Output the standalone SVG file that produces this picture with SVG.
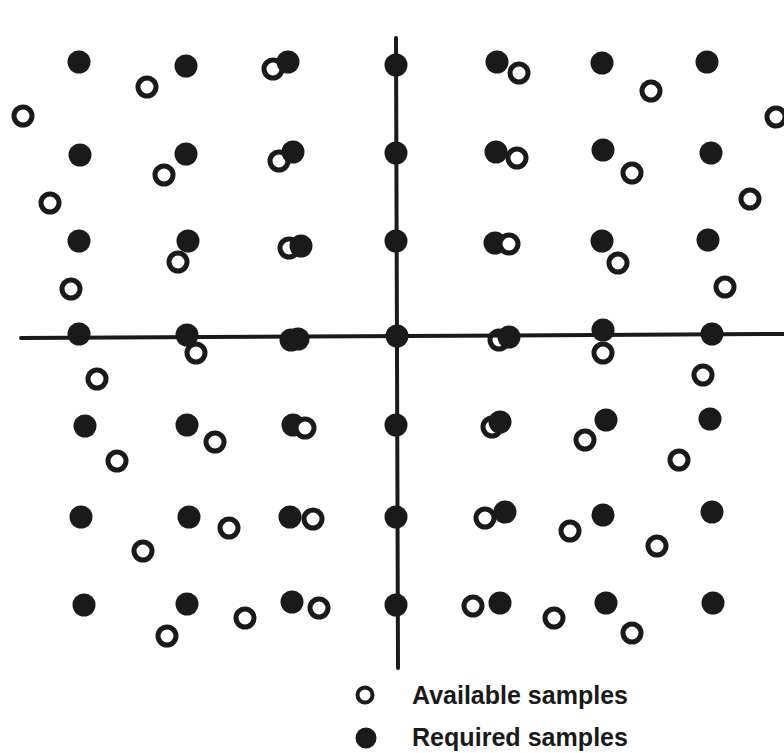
<svg xmlns="http://www.w3.org/2000/svg" width="784" height="753" viewBox="0 0 784 753">
<style>
.axis{stroke:#1a1a1a;stroke-width:4;stroke-linecap:round;fill:none}
.req{fill:#1a1a1a}
.av{fill:#fff;stroke:#1a1a1a;stroke-width:5}
.avu{fill:none;stroke:#1a1a1a;stroke-width:5}
.lbl{font-family:"Liberation Sans",Arial,sans-serif;font-size:25px;font-weight:bold;fill:#1a1a1a}
</style>
<rect width="784" height="753" fill="#fff"/>
<g id="axes">
<line class="axis" x1="396" y1="38" x2="398" y2="668"/>
<line class="axis" x1="21" y1="338" x2="784" y2="334"/>
</g>
<g id="required-samples">
<circle class="req" cx="79" cy="62" r="11.5"/>
<circle class="req" cx="186" cy="66" r="11.5"/>
<circle class="req" cx="288" cy="62" r="11.5"/>
<circle class="req" cx="396" cy="65" r="11.5"/>
<circle class="req" cx="497" cy="62" r="11.5"/>
<circle class="req" cx="602" cy="63" r="11.5"/>
<circle class="req" cx="707" cy="62" r="11.5"/>
<circle class="req" cx="80" cy="155" r="11.5"/>
<circle class="req" cx="186" cy="154" r="11.5"/>
<circle class="req" cx="293" cy="152" r="11.5"/>
<circle class="req" cx="396" cy="153" r="11.5"/>
<circle class="req" cx="496" cy="152" r="11.5"/>
<circle class="req" cx="603" cy="150" r="11.5"/>
<circle class="req" cx="711" cy="153" r="11.5"/>
<circle class="req" cx="79" cy="241" r="11.5"/>
<circle class="req" cx="188" cy="241" r="11.5"/>
<circle class="req" cx="301" cy="246" r="11.5"/>
<circle class="req" cx="396" cy="241" r="11.5"/>
<circle class="req" cx="495" cy="243" r="11.5"/>
<circle class="req" cx="602" cy="241" r="11.5"/>
<circle class="req" cx="708" cy="240" r="11.5"/>
<circle class="req" cx="79" cy="334" r="11.5"/>
<circle class="req" cx="187" cy="335" r="11.5"/>
<circle class="req" cx="291" cy="340" r="11.5"/>
<circle class="req" cx="298" cy="339" r="11.5"/>
<circle class="req" cx="397" cy="336" r="11.5"/>
<circle class="req" cx="509" cy="337" r="11.5"/>
<circle class="req" cx="603" cy="330" r="11.5"/>
<circle class="req" cx="712" cy="334" r="11.5"/>
<circle class="req" cx="85" cy="426" r="11.5"/>
<circle class="req" cx="187" cy="425" r="11.5"/>
<circle class="req" cx="293" cy="425" r="11.5"/>
<circle class="req" cx="396" cy="425" r="11.5"/>
<circle class="req" cx="500" cy="422" r="11.5"/>
<circle class="req" cx="606" cy="420" r="11.5"/>
<circle class="req" cx="710" cy="419" r="11.5"/>
<circle class="req" cx="81" cy="517" r="11.5"/>
<circle class="req" cx="189" cy="517" r="11.5"/>
<circle class="req" cx="290" cy="517" r="11.5"/>
<circle class="req" cx="396" cy="517" r="11.5"/>
<circle class="req" cx="505" cy="512" r="11.5"/>
<circle class="req" cx="603" cy="515" r="11.5"/>
<circle class="req" cx="712" cy="512" r="11.5"/>
<circle class="req" cx="84" cy="605" r="11.5"/>
<circle class="req" cx="187" cy="604" r="11.5"/>
<circle class="req" cx="292" cy="602" r="11.5"/>
<circle class="req" cx="396" cy="605" r="11.5"/>
<circle class="req" cx="500" cy="603" r="11.5"/>
<circle class="req" cx="606" cy="603" r="11.5"/>
<circle class="req" cx="713" cy="603" r="11.5"/>
</g>
<g id="available-samples">
<circle class="av" cx="147" cy="87" r="9"/>
<circle class="av" cx="23" cy="116" r="9"/>
<circle class="avu" cx="273" cy="69" r="9"/>
<circle class="av" cx="519" cy="73" r="9"/>
<circle class="av" cx="651" cy="91" r="9"/>
<circle class="av" cx="776" cy="117" r="9"/>
<circle class="av" cx="164" cy="175" r="9"/>
<circle class="avu" cx="279" cy="161" r="9"/>
<circle class="av" cx="50" cy="203" r="9"/>
<circle class="av" cx="517" cy="158" r="9"/>
<circle class="av" cx="632" cy="173" r="9"/>
<circle class="av" cx="750" cy="199" r="9"/>
<circle class="av" cx="178" cy="262" r="9"/>
<circle class="avu" cx="289" cy="248" r="9"/>
<circle class="av" cx="71" cy="289" r="9"/>
<circle class="av" cx="509" cy="244" r="9"/>
<circle class="av" cx="618" cy="263" r="9"/>
<circle class="av" cx="725" cy="287" r="9"/>
<circle class="av" cx="196" cy="353" r="9"/>
<circle class="av" cx="97" cy="379" r="9"/>
<circle class="avu" cx="499" cy="340" r="9"/>
<circle class="av" cx="603" cy="353" r="9"/>
<circle class="av" cx="703" cy="375" r="9"/>
<circle class="av" cx="215" cy="442" r="9"/>
<circle class="av" cx="305" cy="428" r="9"/>
<circle class="av" cx="117" cy="461" r="9"/>
<circle class="avu" cx="492" cy="427" r="9"/>
<circle class="av" cx="585" cy="440" r="9"/>
<circle class="av" cx="679" cy="460" r="9"/>
<circle class="av" cx="229" cy="528" r="9"/>
<circle class="av" cx="313" cy="519" r="9"/>
<circle class="av" cx="143" cy="551" r="9"/>
<circle class="av" cx="485" cy="518" r="9"/>
<circle class="av" cx="570" cy="531" r="9"/>
<circle class="av" cx="657" cy="546" r="9"/>
<circle class="av" cx="245" cy="618" r="9"/>
<circle class="av" cx="319" cy="608" r="9"/>
<circle class="av" cx="167" cy="636" r="9"/>
<circle class="av" cx="473" cy="606" r="9"/>
<circle class="av" cx="554" cy="618" r="9"/>
<circle class="av" cx="632" cy="633" r="9"/>
</g>
<g id="legend">
<circle class="av" cx="365" cy="695" r="7.5" style="stroke-width:4"/>
<text class="lbl" x="412" y="704" textLength="216" lengthAdjust="spacingAndGlyphs">Available samples</text>
<circle class="req" cx="366" cy="738" r="10.5"/>
<text class="lbl" x="412" y="746" textLength="216" lengthAdjust="spacingAndGlyphs">Required samples</text>
</g>
</svg>
